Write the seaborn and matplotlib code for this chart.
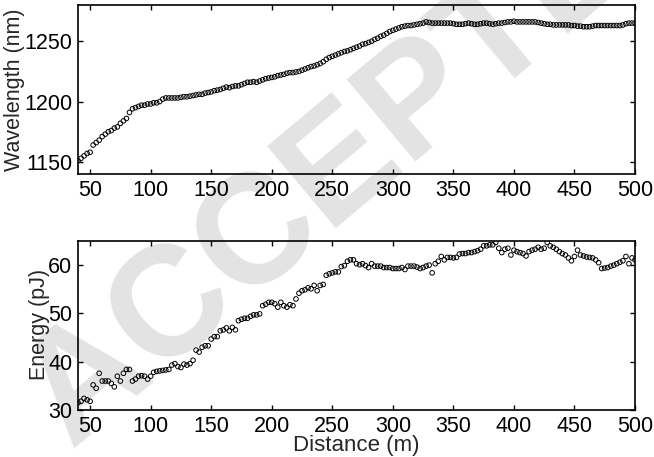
import numpy as np
import pandas as pd
import matplotlib
matplotlib.use("Agg")
import matplotlib.pyplot as plt
import seaborn as sns

distance = np.arange(40, 500.01, 2.5)

wavelength = [
    1151, 1153, 1155, 1157, 1158, 1164, 1166, 1168, 1171, 1173,
    1175, 1176, 1178, 1179, 1182, 1184, 1186, 1191, 1194, 1195,
    1196, 1197, 1197, 1198, 1198, 1199, 1199, 1200, 1202, 1203,
    1203, 1203, 1203, 1203, 1203.5, 1204, 1204, 1204.5, 1205, 1205.5,
    1206, 1206, 1207, 1207.5, 1208, 1209, 1209.5, 1210, 1211, 1212,
    1211.5, 1212.5, 1213, 1213, 1214, 1215, 1216, 1216, 1216.5, 1216,
    1217, 1218, 1219, 1219.5, 1220, 1220.5, 1221.5, 1222, 1222.5, 1223.5,
    1224, 1224, 1224.5, 1225, 1226, 1227, 1228, 1229, 1229.5, 1230.5,
    1231.5, 1233, 1235, 1236.5, 1237.5, 1238.5, 1239.5, 1240.5, 1241.5, 1242,
    1243, 1244, 1245, 1246, 1247.5, 1248, 1249, 1250, 1251.5, 1252.5,
    1254, 1255, 1256.5, 1258, 1259, 1260, 1261, 1262, 1262.5, 1263,
    1263, 1263.5, 1264, 1264.5, 1265, 1266, 1265.5, 1265, 1265, 1265,
    1265, 1265, 1265, 1265, 1264.5, 1264, 1264, 1264, 1264.5, 1265,
    1264.5, 1264, 1264, 1264.5, 1265, 1265, 1264.5, 1264, 1264.5, 1265,
    1265, 1265.5, 1266, 1266, 1266.5, 1266, 1266, 1266, 1266, 1266,
    1266, 1266, 1265.5, 1265, 1264.5, 1264, 1264, 1263.5, 1263.5, 1263.5,
    1263.5, 1263.5, 1263.5, 1263, 1263, 1262.5, 1262.5, 1262, 1262, 1262,
    1262.5, 1263, 1263, 1263, 1263, 1263, 1263, 1263, 1263, 1263,
    1263.5, 1264.5, 1265, 1265, 1265,
]

energy = [
    31.5, 31.8, 32.4, 32.1, 31.8, 35.2, 34.5, 37.6, 36.0, 36.0,
    36.0, 35.5, 34.8, 37.0, 36.0, 37.6, 38.4, 38.4, 36.0, 36.4,
    37.0, 37.1, 37.0, 36.4, 37.0, 37.8, 38.0, 38.1, 38.2, 38.3,
    38.4, 39.3, 39.6, 39.0, 38.8, 39.5, 39.3, 39.6, 40.3, 42.4,
    42.0, 43.0, 43.3, 43.3, 44.7, 45.2, 45.2, 46.4, 46.6, 47.0,
    46.4, 47.1, 46.6, 48.5, 48.8, 49.0, 49.0, 49.4, 49.7, 49.7,
    49.9, 51.6, 51.9, 52.3, 52.3, 52.0, 51.3, 52.3, 51.6, 51.3,
    51.8, 51.6, 53.0, 54.2, 54.7, 54.9, 55.3, 55.1, 55.8, 54.7,
    55.8, 56.0, 57.9, 58.2, 58.4, 58.6, 58.6, 59.7, 59.9, 60.8,
    61.1, 61.1, 60.3, 60.1, 60.3, 59.9, 59.5, 60.3, 59.8, 59.8,
    59.8, 59.5, 59.5, 59.5, 59.3, 59.3, 59.3, 59.5, 59.1, 59.8,
    59.8, 59.8, 59.6, 59.3, 59.5, 59.8, 60.0, 58.4, 60.3, 60.8,
    61.8, 61.1, 61.6, 61.6, 61.5, 61.6, 62.3, 62.4, 62.4, 62.6,
    62.6, 62.8, 63.0, 63.3, 64.0, 64.0, 64.2, 64.2, 64.7, 63.5,
    62.6, 63.3, 63.5, 62.1, 63.1, 62.8, 62.6, 62.4, 61.9, 62.8,
    63.1, 63.3, 63.7, 63.3, 63.5, 64.7, 64.0, 63.7, 63.3, 62.8,
    62.4, 62.1, 61.5, 60.9, 61.8, 63.1, 62.1, 61.9, 61.7, 61.6,
    61.5, 61.1, 60.5, 59.3, 59.4, 59.5, 59.8, 60.0, 60.3, 60.6,
    60.9, 61.8, 60.3, 61.5, 61.1,
]

x_ticks = [50, 100, 150, 200, 250, 300, 350, 400, 450, 500]
wl_ticks = [1150, 1200, 1250]
en_ticks = [30, 40, 50, 60]

df = pd.DataFrame({"distance": distance, "wavelength": wavelength, "energy": energy})

sns.set_style("ticks")
plt.rcParams["font.family"] = ["Liberation Sans", "DejaVu Sans"]

fig = plt.figure(figsize=(6.54, 4.57), dpi=100)
W, H = 654, 457
ax1 = fig.add_axes([78 / W, 1 - 174 / H, (635 - 78) / W, (174 - 5) / H])
ax2 = fig.add_axes([78 / W, 1 - 410 / H, (635 - 78) / W, (410 - 241) / H])

fig.text(70 / W, 1 - 448 / H, "ACCEPTED", rotation=40, rotation_mode="anchor",
         ha="left", va="baseline", fontsize=112, fontweight="bold",
         color="#e3e3e3", zorder=-1)

for ax, col, ticks, ylim in [
    (ax1, "wavelength", wl_ticks, (1140, 1280)),
    (ax2, "energy", en_ticks, (30, 65)),
]:
    ax.set_facecolor("none")
    sns.scatterplot(data=df, x="distance", y=col, ax=ax, marker="o", s=11,
                    facecolor="none", edgecolor="black", linewidth=0.7,
                    legend=False, clip_on=True)
    ax.collections[-1].set_facecolor("none")
    ax.set_xlim(40, 500)
    ax.set_ylim(*ylim)
    ax.set_xticks(x_ticks)
    ax.set_yticks(ticks)
    ax.tick_params(direction="in", top=True, right=True, length=3.5, width=1,
                   labelsize=15.5, pad=4, colors="black")
    for s in ax.spines.values():
        s.set_linewidth(1.2)
        s.set_color("black")
    ax.set_xlabel("")
    ax.set_ylabel("")

fig.text(15 / W, 1 - 90 / H, "Wavelength (nm)", rotation=90, ha="center",
         va="center", fontsize=15.5)
fig.text(40 / W, 1 - 324 / H, "Energy (pJ)", rotation=90, ha="center",
         va="center", fontsize=15.5)
ax2.set_xlabel("Distance (m)", fontsize=16, labelpad=-1)

fig.savefig("out.png", dpi=100)
